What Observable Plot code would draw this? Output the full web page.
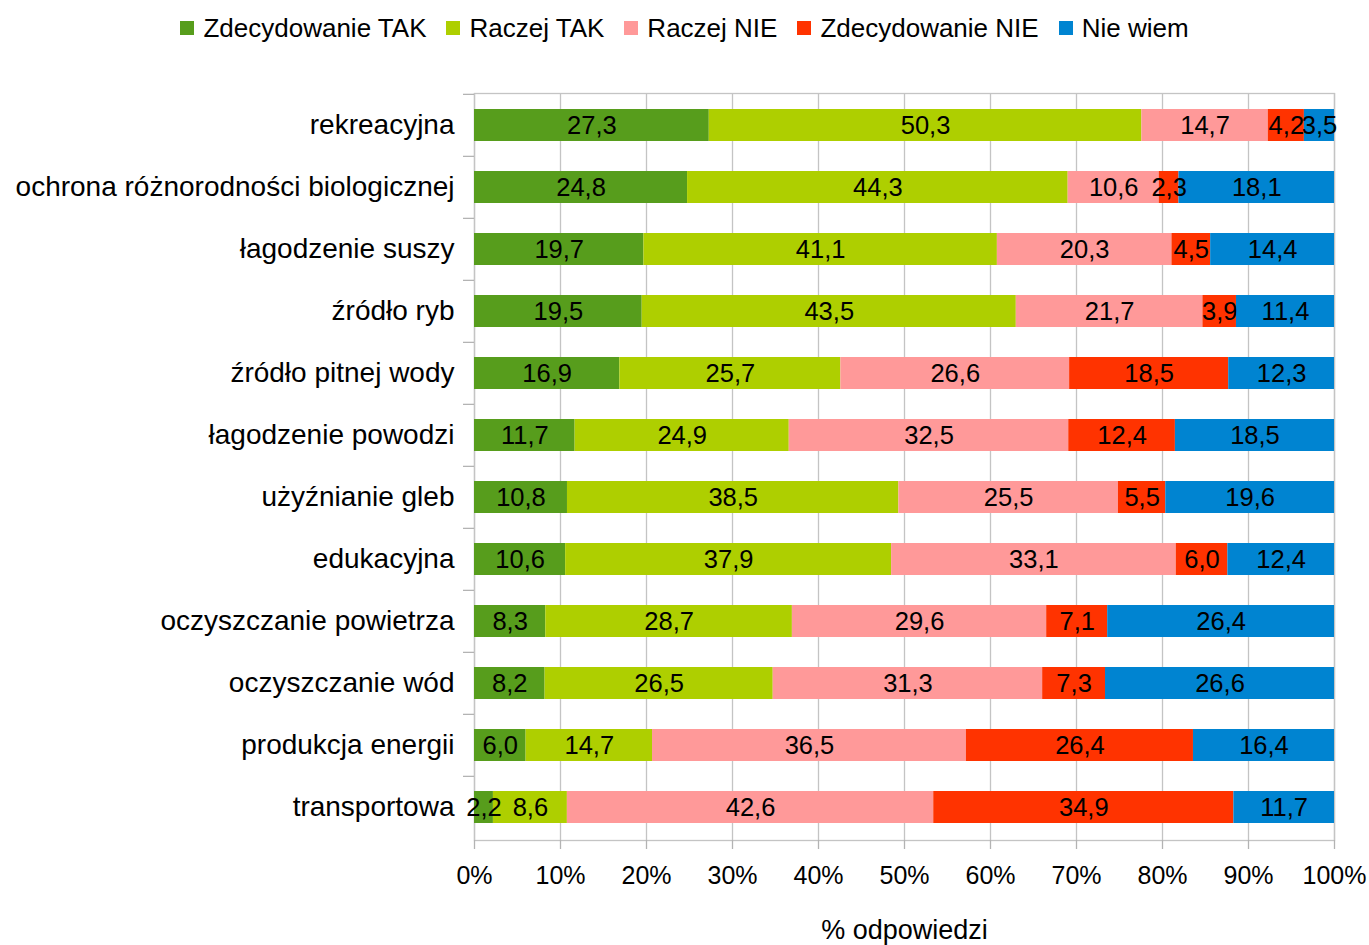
<!DOCTYPE html>
<html>
<head>
<meta charset="utf-8">
<script src="https://cdn.jsdelivr.net/npm/d3@7"></script>
<script src="https://cdn.jsdelivr.net/npm/@observablehq/plot@0.6"></script>
<style>
  body { margin: 0; background: #fff; font-family: "Liberation Sans", Arial, sans-serif; }
  #legend { height: 56px; display: flex; align-items: center; justify-content: center; font-size: 26px; color: #000; }
  .item { display: flex; align-items: center; margin: 0 10px; }
  .sw { width: 14px; height: 14px; margin-right: 9px; }
</style>
</head>
<body>
<div id="legend"></div>
<div id="chart"></div>
<script>
const categories = [
  "rekreacyjna",
  "ochrona różnorodności biologicznej",
  "łagodzenie suszy",
  "źródło ryb",
  "źródło pitnej wody",
  "łagodzenie powodzi",
  "użyźnianie gleb",
  "edukacyjna",
  "oczyszczanie powietrza",
  "oczyszczanie wód",
  "produkcja energii",
  "transportowa"
];
const seriesNames = ["Zdecydowanie TAK", "Raczej TAK", "Raczej NIE", "Zdecydowanie NIE", "Nie wiem"];
const seriesColors = ["#579d1c", "#aecf00", "#ff9999", "#ff3300", "#0084d1"];
const zdecydowanieTak = [27.3, 24.8, 19.7, 19.5, 16.9, 11.7, 10.8, 10.6, 8.3, 8.2, 6.0, 2.2];
const raczejTak       = [50.3, 44.3, 41.1, 43.5, 25.7, 24.9, 38.5, 37.9, 28.7, 26.5, 14.7, 8.6];
const raczejNie       = [14.7, 10.6, 20.3, 21.7, 26.6, 32.5, 25.5, 33.1, 29.6, 31.3, 36.5, 42.6];
const zdecydowanieNie = [4.2, 2.3, 4.5, 3.9, 18.5, 12.4, 5.5, 6.0, 7.1, 7.3, 26.4, 34.9];
const nieWiem         = [3.5, 18.1, 14.4, 11.4, 12.3, 18.5, 19.6, 12.4, 26.4, 26.6, 16.4, 11.7];
const xTicks = [0, 0.1, 0.2, 0.3, 0.4, 0.5, 0.6, 0.7, 0.8, 0.9, 1.0];

const seriesValues = [zdecydowanieTak, raczejTak, raczejNie, zdecydowanieNie, nieWiem];
const data = [];
seriesNames.forEach((s, si) => {
  categories.forEach((c, ci) => data.push({category: c, series: s, value: seriesValues[si][ci]}));
});

// legend
const legend = document.getElementById("legend");
seriesNames.forEach((s, i) => {
  const it = document.createElement("div");
  it.className = "item";
  const sw = document.createElement("div");
  sw.className = "sw";
  sw.style.background = seriesColors[i];
  const t = document.createElement("span");
  t.textContent = s;
  it.appendChild(sw); it.appendChild(t);
  legend.appendChild(it);
});

const W = 1369, H = 889, mt = 37, mb = 105, ml = 474, mr = 35;
const step = (H - mt - mb) / categories.length;
const fmt = v => v.toFixed(1).replace(".", ",");

const chart = Plot.plot({
  width: W,
  height: H,
  marginTop: mt,
  marginBottom: mb,
  marginLeft: ml,
  marginRight: mr,
  style: {fontFamily: "Liberation Sans, Arial, sans-serif", fontSize: "25px", color: "#000", background: "#fff"},
  x: {domain: [0, 1], label: null},
  y: {domain: categories, paddingInner: 0.48, paddingOuter: 0.24, label: null},
  color: {domain: seriesNames, range: seriesColors},
  marks: [
    Plot.gridX(xTicks, {stroke: "#c4c4c4", strokeOpacity: 1, strokeWidth: 1.3}),
    Plot.frame({stroke: "#c4c4c4", strokeWidth: 1.3}),
    Plot.barX(data, Plot.stackX({offset: "normalize", x: "value", y: "category", fill: "series", order: seriesNames})),
    Plot.text(data, Plot.stackX({offset: "normalize", x: "value", y: "category", z: "series", order: seriesNames, text: d => fmt(d.value), fill: "#000", fontSize: 25.5})),
    Plot.axisY({tickSize: 0, tickPadding: 20, fontSize: 28, label: null}),
    Plot.axisY({tickSize: 11, stroke: "#b3b3b3", strokeWidth: 1.3, dy: -step / 2, tickFormat: () => "", label: null}),
    Plot.axisX({ticks: xTicks, tickSize: 9, stroke: "#b3b3b3", strokeWidth: 1.3, tickPadding: 17, tickFormat: d => Math.round(d * 100) + "%", fontSize: 25, label: null}),
    Plot.axisX({ticks: [], tickSize: 0, label: "% odpowiedzi", labelAnchor: "center", labelArrow: "none", labelOffset: 98, fontSize: 27})
  ]
});
document.getElementById("chart").appendChild(chart);
</script>
</body>
</html>
